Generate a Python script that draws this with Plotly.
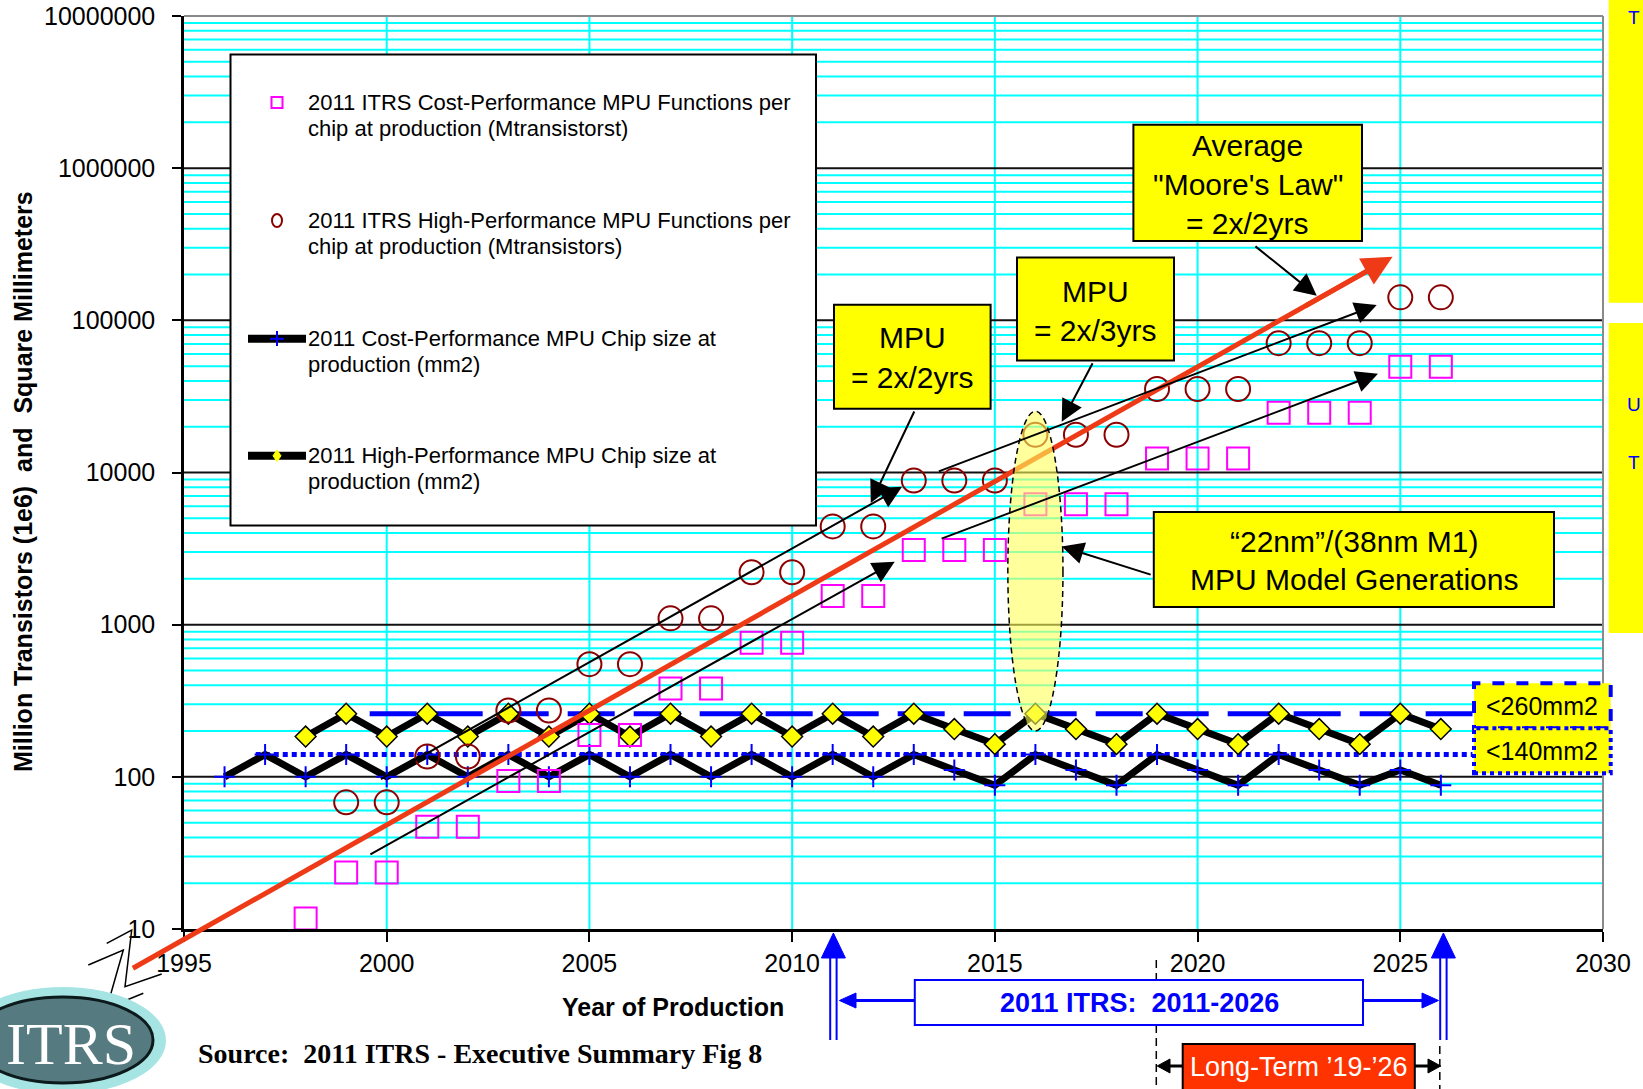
import math
import plotly.graph_objects as go

# ---------------- data ----------------
x_ticks = [1995, 2000, 2005, 2010, 2015, 2020, 2025, 2030]
y_ticks = [10, 100, 1000, 10000, 100000, 1000000, 10000000]
y_tick_text = ["10", "100", "1000", "10000", "100000", "1000000", "10000000"]

# chip size at production (mm2)
cp_chip_years = list(range(1996, 2027))
cp_chip_mm2 = [100, 140, 100, 140, 100, 140, 100, 140, 100, 140, 100, 140, 100, 140, 100,
               140, 100, 140, 111, 88, 140, 111, 88, 140, 111, 88, 140, 111, 88, 111, 88]
hp_chip_years = list(range(1998, 2027))
hp_chip_mm2 = [184, 260, 184, 260, 184, 260, 184, 260, 184, 260, 184, 260, 184,
               260, 184, 260, 206, 164, 260, 206, 164, 260, 206, 164, 260, 206, 164, 260, 206]

# functions per chip at production (Mtransistors)
cp_func_years = list(range(1998, 2027))
cp_func_mtr = [11.7, 23.5, 23.5, 47, 47, 94, 94, 188, 188, 380, 380, 762, 762,
               1546, 1546, 3092, 3092, 3092, 6184, 6184, 6184, 12368, 12368, 12368,
               24736, 24736, 24736, 49472, 49472]
hp_func_years = list(range(1999, 2027))
hp_func_mtr = [68, 68, 136, 136, 273, 273, 550, 550, 1100, 1100, 2210, 2210,
               4424, 4424, 8848, 8848, 8848, 17696, 17696, 17696, 35391, 35391, 35391,
               70782, 70782, 70782, 141564, 141564]

# chip size limits
limit_hp = 260
limit_cp = 140
limit_hp_years = [1999.58, 2026.78]
limit_cp_years = [1996.77, 2026.78]

# trend guides: (years, values)
moore_years, moore_vals = [1993.74, 2024.81], [5.52, 261800]
guide_2yr_hi = ([1999.82, 2012.71], [95.3, 8054])
guide_2yr_lo = ([1999.56, 2012.53], [30.6, 2588])
guide_3yr_hi = ([2013.58, 2024.42], [10093, 126200])
guide_3yr_lo = ([2013.65, 2024.45], [3648, 44570])

# callout pointers: (years, values) tail -> head
ptr_2yr = ([2013.03, 2011.94], [25760, 6310])
ptr_3yr = ([2017.43, 2016.65], [53460, 21530])
ptr_moore = ([2021.39, 2022.94], [311900, 145200])
ptr_gen = ([2018.88, 2016.65], [2118, 3266])

# model generation highlight (year span, value span)
gen_years = [2015.32, 2016.68]
gen_vals = [200, 25290]

# ---------------- geometry ----------------
W, H = 1643, 1089
ML, MR, MT, MB = 184, 40, 16, 160
PW, PH = W - ML - MR, H - MT - MB
X0, X1 = 1995, 2030
LOG0, LOG1 = 1, 7

SANS = "Liberation Sans, Arial, Helvetica, sans-serif"
SERIF = "Liberation Serif, Times New Roman, serif"


def px(x):
    return (x - ML) / PW


def py(y):
    return (H - MB - y) / PH


def xd(year):
    return (year - X0) / (X1 - X0)


def yd(v):
    return (math.log10(v) - LOG0) / (LOG1 - LOG0)


shapes = []
annotations = []


def rect(x0, y0, x1, y1, fill, line_color=None, line_width=0, dash="solid", layer="above"):
    shapes.append(dict(type="rect", xref="paper", yref="paper",
                       x0=px(x0), x1=px(x1), y0=py(y1), y1=py(y0),
                       fillcolor=fill, layer=layer,
                       line=dict(color=line_color or fill, width=line_width, dash=dash)))


def seg(x0, y0, x1, y1, color, width, dash="solid", layer="above"):
    shapes.append(dict(type="line", xref="paper", yref="paper",
                       x0=px(x0), y0=py(y0), x1=px(x1), y1=py(y1), layer=layer,
                       line=dict(color=color, width=width, dash=dash)))


def poly(points, fill, color, width=0, closed=True):
    d = "M " + " L ".join(f"{px(a):.5f},{py(b):.5f}" for a, b in points)
    if closed:
        d += " Z"
    shapes.append(dict(type="path", xref="paper", yref="paper", path=d, layer="above",
                       fillcolor=fill, line=dict(color=color, width=width)))


def label(x, y, text, size, color="black", family=SANS, xanchor="center", bold=False, angle=0):
    if bold:
        text = f"<b>{text}</b>"
    annotations.append(dict(xref="paper", yref="paper", x=px(x), y=py(y), text=text,
                            showarrow=False, xanchor=xanchor, yanchor="middle",
                            textangle=angle,
                            font=dict(size=size, color=color, family=family)))


def data_arrow(pair, color="black", width=2, size=2.2):
    (xa, xb), (va, vb) = pair
    annotations.append(dict(xref="x", yref="y", axref="x", ayref="y",
                            x=xb, y=math.log10(vb), ax=xa, ay=math.log10(va),
                            text="", showarrow=True, arrowhead=2, arrowsize=size,
                            arrowwidth=width, arrowcolor=color, standoff=0))


# ---------------- grid ----------------
for yr in x_ticks[1:-1]:
    shapes.append(dict(type="line", xref="x", yref="paper", x0=yr, x1=yr, y0=0, y1=1,
                       layer="below", line=dict(color="#00FFFF", width=2)))
for dec in y_ticks[:-1]:
    for k in range(2, 10):
        shapes.append(dict(type="line", xref="paper", yref="y", x0=0, x1=1,
                           y0=k * dec, y1=k * dec, layer="below",
                           line=dict(color="#00FFFF", width=2)))
for dec in y_ticks[1:-1]:
    shapes.append(dict(type="line", xref="paper", yref="y", x0=0, x1=1, y0=dec, y1=dec,
                       layer="below", line=dict(color="#111111", width=2)))
# top and right frame
shapes.append(dict(type="line", xref="paper", yref="paper", x0=0, x1=1, y0=1, y1=1,
                   layer="below", line=dict(color="#8a8a8a", width=2)))
shapes.append(dict(type="line", xref="paper", yref="paper", x0=1, x1=1, y0=0, y1=1,
                   layer="below", line=dict(color="#8a8a8a", width=2)))

# ---------------- traces ----------------
fig = go.Figure()
fig.add_trace(go.Scatter(x=limit_hp_years, y=[limit_hp] * 2, mode="lines",
                         line=dict(color="#0000FF", width=5, dash="47px,19px"), hoverinfo="skip"))
fig.add_trace(go.Scatter(x=limit_cp_years, y=[limit_cp] * 2, mode="lines",
                         line=dict(color="#0000FF", width=5, dash="5px,4px"), hoverinfo="skip"))
fig.add_trace(go.Scatter(x=cp_chip_years, y=cp_chip_mm2, mode="lines+markers",
                         name="2011 Cost-Performance MPU Chip size at production (mm2)",
                         line=dict(color="black", width=7),
                         marker=dict(symbol="cross-thin", size=15,
                                     line=dict(color="#0000FF", width=2))))
fig.add_trace(go.Scatter(x=hp_chip_years, y=hp_chip_mm2, mode="lines+markers",
                         name="2011 High-Performance MPU Chip size at production (mm2)",
                         line=dict(color="black", width=7),
                         marker=dict(symbol="diamond", size=16, color="#FFFF00",
                                     line=dict(color="black", width=1.5))))
fig.add_trace(go.Scatter(x=cp_func_years, y=cp_func_mtr, mode="markers",
                         name="2011 ITRS Cost-Performance MPU Functions per chip",
                         marker=dict(symbol="square-open", size=22, color="#FF00FF",
                                     line=dict(width=2))))
fig.add_trace(go.Scatter(x=hp_func_years, y=hp_func_mtr, mode="markers",
                         name="2011 ITRS High-Performance MPU Functions per chip",
                         marker=dict(symbol="circle-open", size=24, color="#8B0000",
                                     line=dict(width=2))))

# ---------------- Moore's law trend (line under highlight, head as arrow) ----------------
lm0, lm1 = math.log10(moore_vals[0]), math.log10(moore_vals[1])
t_end = 0.985
shapes.append(dict(type="line", xref="paper", yref="paper",
                   x0=xd(moore_years[0]), y0=yd(moore_vals[0]),
                   x1=xd(moore_years[0] + t_end * (moore_years[1] - moore_years[0])),
                   y1=(lm0 + t_end * (lm1 - lm0) - LOG0) / (LOG1 - LOG0),
                   layer="above", line=dict(color="#EE3A16", width=5)))
t_tail = 0.93
annotations.append(dict(xref="x", yref="y", axref="x", ayref="y",
                        x=moore_years[1], y=lm1,
                        ax=moore_years[0] + t_tail * (moore_years[1] - moore_years[0]),
                        ay=lm0 + t_tail * (lm1 - lm0),
                        text="", showarrow=True, arrowhead=2, arrowsize=1.2,
                        arrowwidth=5, arrowcolor="#EE3A16", standoff=0))

# model generation highlight
shapes.append(dict(type="circle", xref="x", yref="y", x0=gen_years[0], x1=gen_years[1],
                   y0=gen_vals[0], y1=gen_vals[1], layer="above",
                   fillcolor="rgba(255,255,90,0.6)",
                   line=dict(color="black", width=1.5, dash="6px,4px")))

# trend guides and pointers
for g in (guide_2yr_hi, guide_2yr_lo, guide_3yr_hi, guide_3yr_lo):
    data_arrow(g)
for p in (ptr_2yr, ptr_3yr, ptr_moore, ptr_gen):
    data_arrow(p)

# ---------------- legend box ----------------
rect(230.5, 54.5, 816, 525.5, "white", "black", 2)
leg_text_x = 305.5
legend_rows = [
    ("2011 ITRS Cost-Performance MPU Functions per", "chip at production (Mtransistorst)", 102.6),
    ("2011 ITRS High-Performance MPU Functions per", "chip at production (Mtransistors)", 220.4),
    ("2011 Cost-Performance MPU Chip size at", "production (mm2)", 338.8),
    ("2011 High-Performance MPU Chip size at", "production (mm2)", 455.8),
]
for l1, l2, yy in legend_rows:
    label(leg_text_x, yy, l1, 22, xanchor="left")
    label(leg_text_x, yy + 26, l2, 22, xanchor="left")
# legend symbols
rect(271.5, 97, 282.5, 108, "rgba(0,0,0,0)", "#FF00FF", 2)
shapes.append(dict(type="circle", xref="paper", yref="paper", x0=px(272), x1=px(282),
                   y0=py(227), y1=py(214), layer="above", line=dict(color="#8B0000", width=2)))
seg(248, 338.8, 306, 338.8, "black", 8)
poly([(277, 331), (277, 346)], None, "#0000FF", 2, closed=False)
poly([(270, 338.8), (284, 338.8)], None, "#0000FF", 2, closed=False)
seg(248, 455.8, 306, 455.8, "black", 8)
poly([(277, 450), (281, 455.8), (277, 461.6), (273, 455.8)], "#FFFF00", "#FFFF00", 1)

# ---------------- yellow callout boxes ----------------
callouts = [
    (834, 304.8, 990.6, 408.7, [("MPU", 337.5), ("= 2x/2yrs", 377)]),
    (1017, 257.6, 1174, 360.5, [("MPU", 291), ("= 2x/3yrs", 330.6)]),
    (1133.4, 124.7, 1362, 241, [("Average", 146), ("\"Moore's Law\"", 184.5), ("= 2x/2yrs", 223)]),
    (1153.8, 512, 1554, 607, [("\u201c22nm\u201d/(38nm M1)", 541.7), ("MPU Model Generations", 579.4)]),
]
for x0, y0, x1, y1, lines in callouts:
    rect(x0, y0, x1, y1, "#FFFF00", "black", 2)
    for txt, yy in lines:
        label((x0 + x1) / 2, yy, txt, 30)

# chip size limit boxes
rect(1474, 683.3, 1610.7, 728.3, "#FFFF00", "#0000FF", 4, dash="dash")
rect(1474, 728.3, 1610.7, 773.3, "#FFFF00", "#0000FF", 4, dash="dot")
label(1542, 706, "&lt;260mm2", 25)
label(1542, 751, "&lt;140mm2", 25)

# partially visible side panels
rect(1608.7, -5, 1660, 302.7, "#FFFF00")
rect(1608.7, 323, 1660, 633, "#FFFF00")
label(1626, 17, "T", 19, color="#0000FF", xanchor="left")
label(1625, 404, "U", 19, color="#0000FF", xanchor="left")
label(1626, 462, "T", 19, color="#0000FF", xanchor="left")

# ---------------- timeline below the axis ----------------
seg(1156.3, 960, 1156.3, 1089, "black", 1.5, dash="8px,5px")
seg(1439.8, 1046, 1439.8, 1089, "black", 1.5, dash="8px,5px")

for xc in (833.4, 1443.4):
    seg(xc - 3.2, 956, xc - 3.2, 1040, "#0000FF", 2)
    seg(xc + 3.2, 956, xc + 3.2, 1040, "#0000FF", 2)
    poly([(xc, 933), (xc + 12, 958), (xc - 12, 958)], "#0000FF", "#0000FF", 1)

rect(914.8, 980, 1363, 1025, "white", "#0000FF", 2)
label(1139, 1003, "2011 ITRS:  2011-2026", 27, color="#0000FF", bold=True)
seg(914.8, 1000.5, 852, 1000.5, "#0000FF", 3)
poly([(839.4, 1000.5), (856, 993), (856, 1008)], "#0000FF", "#0000FF", 1)
seg(1363, 1000.5, 1426, 1000.5, "#0000FF", 3)
poly([(1438.5, 1000.5), (1422, 993), (1422, 1008)], "#0000FF", "#0000FF", 1)

rect(1182.7, 1044, 1414.8, 1090, "#FF3300", "black", 2)
label(1298.7, 1066.5, "Long-Term \u201919-\u201926", 27, color="white")
seg(1182.7, 1066, 1168, 1066, "black", 3)
poly([(1157.2, 1066), (1170, 1059), (1170, 1073)], "black", "black", 1)
seg(1414.8, 1066, 1430, 1066, "black", 3)
poly([(1440.7, 1066), (1428, 1059), (1428, 1073)], "black", "black", 1)

# ---------------- axis titles and source ----------------
label(23, 482, "Million Transistors (1e6)  and  Square Millimeters", 25, bold=True, angle=-90)
label(672.6, 1007, "Year of Production", 25, bold=True)
label(480, 1053, "Source:  2011 ITRS - Executive Summary Fig 8", 28, family=SERIF, bold=True)

# axis break mark
for pts in ([(88.3, 965), (123.3, 950), (106.7, 1008.3), (143.3, 993.3)],
            [(106.7, 943.3), (131.7, 930), (125, 986.7), (161.7, 974)]):
    poly(pts, None, "black", 1.5, closed=False)

# ITRS logo
shapes.append(dict(type="circle", xref="paper", yref="paper", x0=px(-40), x1=px(166),
                   y0=py(1094), y1=py(987), layer="above", fillcolor="#a6e4e4",
                   line=dict(width=0)))
shapes.append(dict(type="circle", xref="paper", yref="paper", x0=px(-28), x1=px(153),
                   y0=py(1083), y1=py(997), layer="above", fillcolor="#557a80",
                   line=dict(color="#0d1a1c", width=3)))
label(71, 1044, "ITRS", 60, color="white", family=SERIF)

# ---------------- layout ----------------
fig.update_layout(
    width=W, height=H,
    margin=dict(l=ML, r=MR, t=MT, b=MB, autoexpand=False),
    paper_bgcolor="white", plot_bgcolor="white",
    showlegend=False,
    font=dict(family=SANS, color="black"),
    shapes=shapes, annotations=annotations,
)
fig.update_xaxes(range=[X0, X1], tickvals=x_ticks, ticks="outside", ticklen=10, tickwidth=2,
                 tickcolor="black", showline=True, linecolor="black", linewidth=2.5,
                 showgrid=False, zeroline=False, tickfont=dict(size=25, family=SANS))
fig.update_yaxes(type="log", range=[LOG0, LOG1], tickvals=y_ticks, ticktext=y_tick_text,
                 ticks="outside", ticklen=9, tickwidth=2, tickcolor="black",
                 showline=True, linecolor="black", linewidth=2.5, showgrid=False,
                 zeroline=False, tickfont=dict(size=25, family=SANS), ticklabelstandoff=12)

fig.write_html("out.html", config={"displayModeBar": False})
